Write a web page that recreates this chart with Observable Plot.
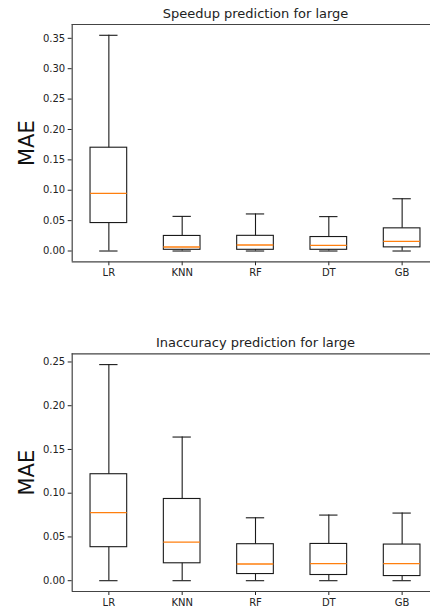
<!DOCTYPE html>
<html>
<head>
<meta charset="utf-8">
<script src="https://cdn.jsdelivr.net/npm/d3@7"></script>
<script src="https://cdn.jsdelivr.net/npm/@observablehq/plot@0.6"></script>
<style>
  html, body { margin: 0; padding: 0; background: #fff; overflow: hidden; }
  #chart svg { display: block; max-width: none; overflow: visible; }
</style>
</head>
<body>
<div id="chart"></div>
<script>
const models = ["LR", "KNN", "RF", "DT", "GB"];

// Speedup prediction (MAE)
const speedupLow  = [0.000, 0.000, 0.000, 0.000, 0.000];
const speedupQ1   = [0.046, 0.002, 0.002, 0.002, 0.006];
const speedupMed  = [0.095, 0.0066, 0.0099, 0.0093, 0.0159];
const speedupQ3   = [0.170, 0.0248, 0.025, 0.023, 0.0373];
const speedupHigh = [0.355, 0.057, 0.061, 0.0566, 0.086];
const speedupTicks = [0, 0.05, 0.10, 0.15, 0.20, 0.25, 0.30, 0.35];

// Inaccuracy prediction (MAE)
const inaccLow  = [0.000, 0.000, 0.000, 0.000, 0.000];
const inaccQ1   = [0.0383, 0.0199, 0.0076, 0.0065, 0.0053];
const inaccMed  = [0.0777, 0.044, 0.0191, 0.0195, 0.0195];
const inaccQ3   = [0.1217, 0.0934, 0.0417, 0.042, 0.0413];
const inaccHigh = [0.247, 0.1642, 0.0719, 0.075, 0.0773];
const inaccTicks = [0, 0.05, 0.10, 0.15, 0.20, 0.25];

const FONT = "DejaVu Sans, sans-serif";

function rows(low, q1, med, q3, high) {
  return models.map((m, i) => ({name: m, pos: i + 1, low: low[i], q1: q1[i], med: med[i], q3: q3[i], high: high[i]}));
}

function panel({title, data, ticks, height, marginTop, marginBottom}) {
  const maxV = d3.max(data, d => d.high), minV = d3.min(data, d => d.low);
  const pad = (maxV - minV) * 0.05;
  const yDom = [minV - pad, maxV + pad];
  const xDom = [0.5, 5.5];
  const ink = "#1a1a1a";
  const spine = "#444";
  return Plot.plot({
    width: 430,
    height,
    marginLeft: 71.7,
    marginRight: -8.3,
    marginTop,
    marginBottom,
    style: {fontFamily: FONT, fontSize: "10px", color: "#222", background: "white", overflow: "visible"},
    x: {type: "linear", domain: xDom, ticks: models.map((m, i) => i + 1), tickFormat: v => models[v - 1], tickSize: 4, tickPadding: 3, label: null},
    y: {domain: yDom, ticks, tickFormat: d3.format(".2f"), tickSize: 4, tickPadding: 3, label: null},
    marks: [
      Plot.ruleY(yDom, {x1: xDom[0], x2: xDom[1], stroke: spine, strokeWidth: 1.2}),
      Plot.ruleX([xDom[0]], {y1: yDom[0], y2: yDom[1], stroke: spine, strokeWidth: 1.2}),
      Plot.ruleX(data, {x: "pos", y1: "low", y2: "q1", stroke: ink, strokeWidth: 1.1}),
      Plot.ruleX(data, {x: "pos", y1: "q3", y2: "high", stroke: ink, strokeWidth: 1.1}),
      Plot.ruleY(data, {y: "low", x1: d => d.pos - 0.125, x2: d => d.pos + 0.125, stroke: ink, strokeWidth: 1.1}),
      Plot.ruleY(data, {y: "high", x1: d => d.pos - 0.125, x2: d => d.pos + 0.125, stroke: ink, strokeWidth: 1.1}),
      Plot.rect(data, {x1: d => d.pos - 0.25, x2: d => d.pos + 0.25, y1: "q1", y2: "q3", fill: "none", stroke: ink, strokeWidth: 1.1}),
      Plot.ruleY(data, {y: "med", x1: d => d.pos - 0.25, x2: d => d.pos + 0.25, stroke: "#ff7f0e", strokeWidth: 1.3}),
      Plot.text([title], {frameAnchor: "top", textAnchor: "middle", lineAnchor: "middle", dy: -10.7, text: d => d, fontSize: 13, fill: "#222"}),
      Plot.text(["MAE"], {frameAnchor: "left", textAnchor: "middle", lineAnchor: "middle", dx: -45, rotate: -90, text: d => d, fontSize: 21, fill: "#111"})
    ]
  });
}

const topPanel = panel({
  title: "Speedup prediction for large",
  data: rows(speedupLow, speedupQ1, speedupMed, speedupQ3, speedupHigh),
  ticks: speedupTicks,
  height: 300, marginTop: 24, marginBottom: 38.7
});
const bottomPanel = panel({
  title: "Inaccuracy prediction for large",
  data: rows(inaccLow, inaccQ1, inaccMed, inaccQ3, inaccHigh),
  ticks: inaccTicks,
  height: 309, marginTop: 53.3, marginBottom: 18
});
const c = document.getElementById("chart");
c.appendChild(topPanel);
c.appendChild(bottomPanel);
</script>
</body>
</html>
